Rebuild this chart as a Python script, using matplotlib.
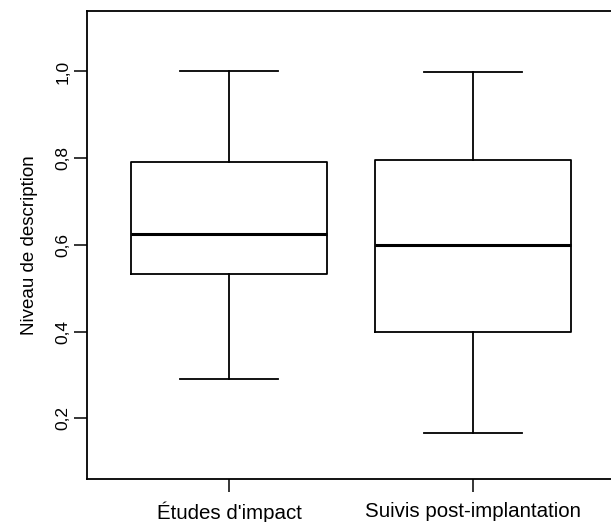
import numpy as np
import matplotlib
matplotlib.use("Agg")
import matplotlib.pyplot as plt

# boxplot statistics
groups = ["Études d'impact", "Suivis post-implantation"]
whislo = [0.291, 0.167]
q1 = [0.533, 0.400]
med = [0.626, 0.599]
q3 = [0.791, 0.796]
whishi = [1.0, 0.998]
yticks = [0.2, 0.4, 0.6, 0.8, 1.0]
ytick_labels = ["0,2", "0,4", "0,6", "0,8", "1,0"]

plt.rcParams['font.family'] = ['Liberation Sans', 'DejaVu Sans']

fig = plt.figure(figsize=(6.11, 5.22), dpi=100)
# axes runs a bit past the right border, like the cropped scan
ax = fig.add_axes([0.1432, 0.0824, 0.8625, 0.897])

stats = []
for i in range(len(groups)):
    stats.append(dict(whislo=whislo[i], q1=q1[i], med=med[i], q3=q3[i],
                      whishi=whishi[i], fliers=[]))

ax.bxp(stats, positions=[1, 2], widths=0.8, capwidths=0.4, showfliers=False,
       boxprops=dict(color="black", linewidth=1.3),
       medianprops=dict(color="black", linewidth=2.2),
       whiskerprops=dict(color="black", linewidth=1.3),
       capprops=dict(color="black", linewidth=1.3))

ax.set_xlim(0.42, 2.58)
ax.set_ylim(0.06, 1.14)

ax.set_xticks([1, 2])
ax.set_xticklabels(groups, fontsize=14.8)
ax.set_yticks(yticks)
ax.set_yticklabels(ytick_labels, fontsize=12.5, rotation=90, va="center")
ax.set_ylabel("Niveau de description", fontsize=13.5, labelpad=12)

ax.tick_params(axis="both", length=9.5, width=1.1, color="black")
ax.tick_params(axis="x", pad=7)
ax.tick_params(axis="y", pad=3)
for s in ax.spines.values():
    s.set_linewidth(1.3)

fig.savefig("out.png", dpi=100)
